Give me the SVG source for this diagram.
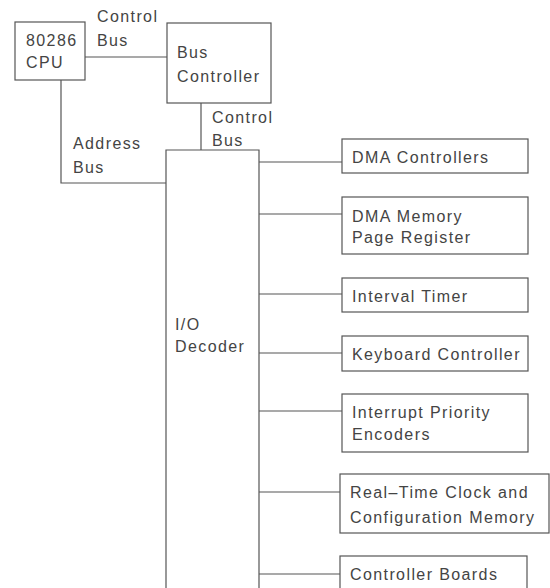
<svg xmlns="http://www.w3.org/2000/svg" width="550" height="588" viewBox="0 0 550 588">
  <style>
    .box { fill: none; stroke: #555; stroke-width: 1.2; }
    .wire { fill: none; stroke: #555; stroke-width: 1.2; }
    text { font-family: "Liberation Sans", Arial, sans-serif; font-size: 16px; fill: #444; letter-spacing: 1.4px; }
  </style>
  <rect width="550" height="588" fill="#ffffff"/>

  <!-- connectors -->
  <g id="connectors">
    <!-- CPU to bus controller (control bus) -->
    <line class="wire" x1="85" y1="57" x2="167" y2="57"/>
    <text x="97" y="22">Control</text>
    <text x="97" y="46">Bus</text>
    <!-- bus controller to I/O decoder (control bus) -->
    <line class="wire" x1="201" y1="103" x2="201" y2="150"/>
    <text x="212" y="123">Control</text>
    <text x="212" y="146">Bus</text>
    <!-- CPU to I/O decoder (address bus) -->
    <polyline class="wire" points="61,80 61,183 166,183"/>
    <text x="73" y="149">Address</text>
    <text x="73" y="173">Bus</text>
    <!-- I/O decoder outputs -->
    <line class="wire" x1="259" y1="162" x2="342" y2="162"/>
    <line class="wire" x1="259" y1="214" x2="342" y2="214"/>
    <line class="wire" x1="259" y1="294" x2="342" y2="294"/>
    <line class="wire" x1="259" y1="353" x2="342" y2="353"/>
    <line class="wire" x1="259" y1="411" x2="342" y2="411"/>
    <line class="wire" x1="259" y1="492" x2="340" y2="492"/>
    <line class="wire" x1="259" y1="574" x2="340" y2="574"/>
  </g>

  <g id="cpu">
    <rect class="box" x="15" y="22" width="70" height="58"/>
    <text x="26" y="46">80286</text>
    <text x="26" y="68">CPU</text>
  </g>

  <g id="bus-controller">
    <rect class="box" x="167" y="23" width="104" height="80"/>
    <text x="177" y="58">Bus</text>
    <text x="177" y="82">Controller</text>
  </g>

  <g id="io-decoder">
    <polyline class="box" points="166,592 166,150 259,150 259,592"/>
    <text x="175" y="330">I/O</text>
    <text x="175" y="352">Decoder</text>
  </g>

  <g id="dma-controllers">
    <rect class="box" x="342" y="139" width="186" height="34"/>
    <text x="352" y="163">DMA Controllers</text>
  </g>

  <g id="dma-page-register">
    <rect class="box" x="342" y="197" width="186" height="57"/>
    <text x="352" y="222">DMA Memory</text>
    <text x="352" y="243">Page Register</text>
  </g>

  <g id="interval-timer">
    <rect class="box" x="342" y="278" width="186" height="34"/>
    <text x="352" y="302">Interval Timer</text>
  </g>

  <g id="keyboard-controller">
    <rect class="box" x="342" y="336" width="186" height="35"/>
    <text x="352" y="360">Keyboard Controller</text>
  </g>

  <g id="interrupt-encoders">
    <rect class="box" x="342" y="394" width="186" height="58"/>
    <text x="352" y="418">Interrupt Priority</text>
    <text x="352" y="440">Encoders</text>
  </g>

  <g id="rtc-cmos">
    <rect class="box" x="340" y="474" width="209" height="59"/>
    <text x="350" y="498">Real–Time Clock and</text>
    <text x="350" y="523">Configuration Memory</text>
  </g>

  <g id="controller-boards">
    <rect class="box" x="340" y="556" width="187" height="40"/>
    <text x="350" y="580">Controller Boards</text>
  </g>
</svg>
